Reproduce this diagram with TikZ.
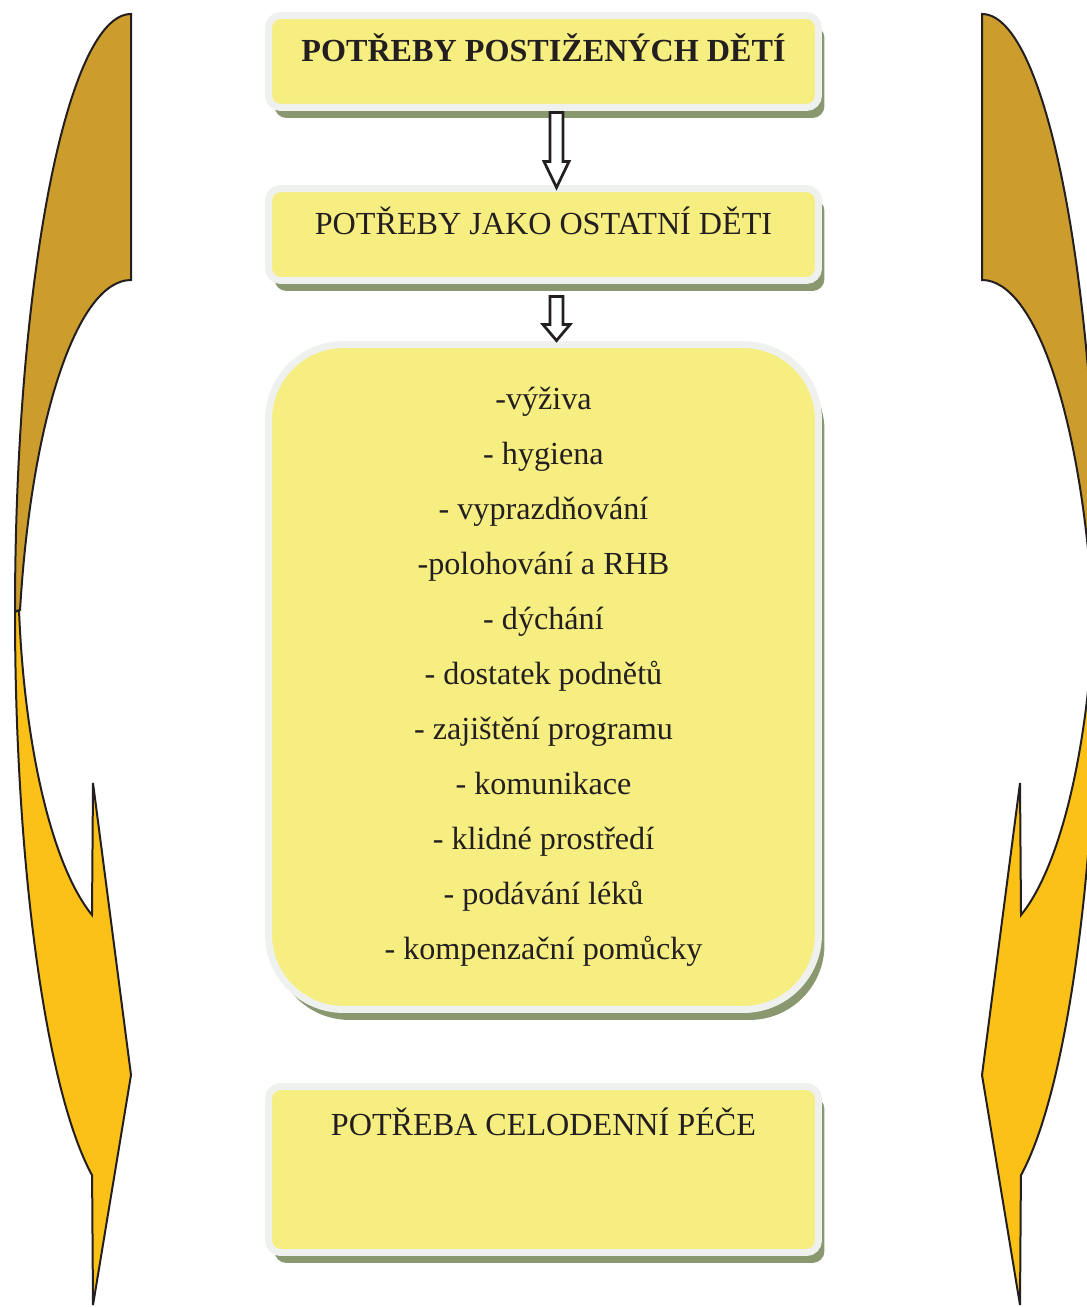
\documentclass[tikz,border=0pt]{standalone}
\usepackage{fontspec}
\setmainfont{Liberation Serif}
\usetikzlibrary{calc, shadows}
\definecolor{boxFill}{RGB}{246,238,128}
\definecolor{boxEdge}{RGB}{239,241,239}
\definecolor{boxShade}{RGB}{138,152,112}
\definecolor{txtDark}{RGB}{35,31,32}
\definecolor{backGold}{RGB}{204,156,44}
\definecolor{frontGold}{RGB}{251,193,22}

\begin{document}
\begin{tikzpicture}[
    x=0.02cm, y=-0.02cm,
    box/.style={rectangle, draw=boxEdge, line width=0.14cm, fill=boxFill, rounded corners=0.24cm, minimum width=11cm, minimum height=1.84cm, align=center, text=txtDark, font=\fontsize{18.3}{22}\selectfont, general shadow={fill=boxShade, shadow xshift=0.12cm, shadow yshift=-0.21cm}},
    hollow/.style={draw=txtDark, line width=0.055cm, fill=white, line join=miter},
    curve/.style={draw=txtDark, line width=0.04cm},
    every node/.style={font=\fontsize{18.3}{22}\selectfont}
]
\useasboundingbox (0,0) rectangle (1087,1307);

% Curved arrows on both sides (right one mirrored)
\foreach \sx/\dx in {1/0, -1/1113}{
  \begin{scope}[shift={(\dx,0)}, xscale=\sx]
    % back part
    \draw[curve, fill=backGold] (131,14) -- (131,280) arc[start angle=-90, end angle=-167.6, x radius=113.6, y radius=420] -- (15,612) arc[start angle=180, end angle=270, x radius=116, y radius=598] -- cycle;
    % front part with head
    \draw[curve, fill=frontGold] (15,612) arc[start angle=180, end angle=109.6, x radius=116, y radius=598] -- (93,1305) -- (131,1075) -- (93,783) -- (92,915) arc[start angle=110.2, end angle=172.4, x radius=113, y radius=378] -- cycle;
  \end{scope}
}

% Boxes
\node[box, text height=0.3cm, text depth=0.3cm] (needs) at (543.5,61.5) {\textbf{POTŘEBY POSTIŽENÝCH DĚTÍ}};
\node[box, text height=0.3cm, text depth=0.3cm] (other) at (543.5,234.5) {POTŘEBY JAKO OSTATNÍ DĚTI};
\node[box, rounded corners=1.5cm, minimum height=13.3cm, font=\fontsize{18.3}{31.3}\selectfont] (care) at (543.5,677) {-výživa\\- hygiena\\- vyprazdňování\\-polohování a RHB\\- dýchání\\- dostatek podnětů\\- zajištění programu\\- komunikace\\- klidné prostředí\\- podávání léků\\- kompenzační pomůcky};
\node[box, minimum height=3.32cm, text height=0.3cm, text depth=1.66cm] (fullday) at (543.5,1169.5) {POTŘEBA CELODENNÍ PÉČE};

% Hollow arrows
\coordinate (a1s) at ($(needs.south)+(13,1.5)$);
\coordinate (a1e) at ($(other.north)+(13,2.5)$);
\draw[hollow] ($(a1s)+(-6.5,0)$) -- ($(a1e)+(-6.5,-26)$) -- ($(a1e)+(-12.5,-26)$) -- (a1e) -- ($(a1e)+(12.5,-26)$) -- ($(a1e)+(6.5,-26)$) -- ($(a1s)+(6.5,0)$) -- cycle;

\coordinate (a2s) at ($(other.south)+(13,12.5)$);
\coordinate (a2e) at ($(care.north)+(13,-0.5)$);
\draw[hollow] ($(a2s)+(-6.5,0)$) -- ($(a2e)+(-6.5,-16)$) -- ($(a2e)+(-13.5,-16)$) -- (a2e) -- ($(a2e)+(13.5,-16)$) -- ($(a2e)+(6.5,-16)$) -- ($(a2s)+(6.5,0)$) -- cycle;

\end{tikzpicture}
\end{document}
